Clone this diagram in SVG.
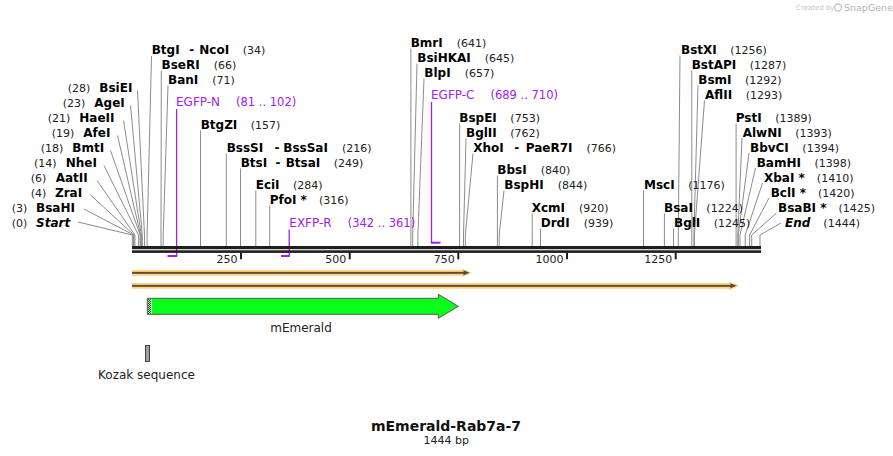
<svg xmlns="http://www.w3.org/2000/svg" width="893" height="456" viewBox="0 0 893 456">
<style>
text{font-family:"DejaVu Sans",Verdana,sans-serif}
.e{font-weight:bold;font-size:12px;fill:#000}
.n{font-weight:normal;font-size:11px;fill:#222}
.it{font-style:italic}
.p{font-size:12px;fill:#a020f0}
.pn{font-size:11.5px}
.c{fill:none;stroke:#8c8c8c;stroke-width:1}
.pl{fill:none;stroke:#a020f0;stroke-width:1.3}
.tk{stroke:#1e1e1e;stroke-width:2}
.tl{font-size:11px;fill:#222;text-anchor:end}
.bb{fill:#1e1e1e}
.og{fill:#fcd27f}
.dk{fill:#5e4a30}
</style>

<g id="watermark">
<text x="796" y="10" style="font-size:7px;fill:#c4c4c4">Created by</text>
<circle cx="838" cy="7.5" r="3.5" fill="none" stroke="#c4c4c4" stroke-width="1.3"/>
<text x="844" y="11" style="font-size:9.5px;fill:#b4b4b4">SnapGene</text>
</g>

<g id="connectors">
<polyline class="c" points="78,222 132.3,235 132.3,246"/>
<polyline class="c" points="84,209 133.6,235 133.6,246"/>
<polyline class="c" points="90.5,195 134,235 134,246"/>
<polyline class="c" points="97,180.5 134.9,235 134.9,246"/>
<polyline class="c" points="104,165.5 138.4,235 138.4,246"/>
<polyline class="c" points="110.5,150.5 140.1,235 140.1,246"/>
<polyline class="c" points="117.5,135.5 140.6,235 140.6,246"/>
<polyline class="c" points="123.5,120.5 141.4,235 141.4,246"/>
<polyline class="c" points="130.5,105.5 142.3,235 142.3,246"/>
<polyline class="c" points="137.5,90.5 144.5,235 144.5,246"/>
<polyline class="c" points="151.5,56 147.1,235 147.1,246"/>
<polyline class="c" points="161.3,70.5 161,235 161,246"/>
<polyline class="c" points="168,85.5 163.2,235 163.2,246"/>
<polyline class="c" points="200.5,130.5 200.5,246"/>
<polyline class="c" points="226.3,153.5 226.3,246"/>
<polyline class="c" points="240.5,168.5 240.5,246"/>
<polyline class="c" points="255.8,190.5 255.8,246"/>
<polyline class="c" points="269.7,205.5 269.7,246"/>
<polyline class="c" points="410.9,48.5 410.9,246"/>
<polyline class="c" points="417,63.5 412.7,235 412.7,246"/>
<polyline class="c" points="424,78.5 417.9,235 417.9,246"/>
<polyline class="c" points="459.6,123.5 459.6,246"/>
<polyline class="c" points="466,138.5 463.5,235 463.5,246"/>
<polyline class="c" points="473,153.5 465.3,235 465.3,246"/>
<polyline class="c" points="497.4,175.5 497.4,246"/>
<polyline class="c" points="504,190.5 499.2,235 499.2,246"/>
<polyline class="c" points="532.2,213.5 532.2,246"/>
<polyline class="c" points="540.5,228.5 540.5,246"/>
<polyline class="c" points="643.5,190.5 643.5,246"/>
<polyline class="c" points="664.4,213.5 664.4,246"/>
<polyline class="c" points="673.5,228.5 673.5,246"/>
<polyline class="c" points="680,55.5 678.3,235 678.3,246"/>
<polyline class="c" points="691.8,70.5 691.8,246"/>
<polyline class="c" points="698,85.5 693.9,235 693.9,246"/>
<polyline class="c" points="704.5,100.5 694.4,235 694.4,246"/>
<polyline class="c" points="736.1,123.5 736.1,246"/>
<polyline class="c" points="742,138 737.8,235 737.8,246"/>
<polyline class="c" points="749,153 738.3,235 738.3,246"/>
<polyline class="c" points="755.5,168 740,235 740,246"/>
<polyline class="c" points="762.5,183 745.2,235 745.2,246"/>
<polyline class="c" points="769,198 749.6,235 749.6,246"/>
<polyline class="c" points="776.5,213 751.7,235 751.7,246"/>
<polyline class="c" points="781,223 760,235 760,246"/>
<line class="pl" x1="176.6" y1="109" x2="176.6" y2="256"/>
<line class="pl" x1="289.2" y1="229.5" x2="289.2" y2="256"/>
<line class="pl" x1="431.5" y1="102" x2="431.5" y2="243"/>
</g>

<g id="backbone">
<rect class="bb" x="132" y="246" width="629" height="3.2"/>
<rect class="bb" x="132" y="250.3" width="629" height="2.6"/>
<line class="tk" x1="241" y1="252.5" x2="241" y2="259.3"/>
<line class="tk" x1="349.7" y1="252.5" x2="349.7" y2="259.3"/>
<line class="tk" x1="458.3" y1="252.5" x2="458.3" y2="259.3"/>
<line class="tk" x1="567" y1="252.5" x2="567" y2="259.3"/>
<line class="tk" x1="675.7" y1="252.5" x2="675.7" y2="259.3"/>
<text class="tl" x="237.5" y="263.3">250</text>
<text class="tl" x="346.2" y="263.3">500</text>
<text class="tl" x="454.8" y="263.3">750</text>
<text class="tl" x="563.5" y="263.3">1000</text>
<text class="tl" x="672.2" y="263.3">1250</text>
</g>

<g id="Start"><text class="e" y="226.5"><tspan class="n" x="11.7">(0)</tspan><tspan class="it" x="36">Start</tspan></text></g>
<g id="BsaHI"><text class="e" y="211.5"><tspan class="n" x="11.7">(3)</tspan><tspan x="36">BsaHI</tspan></text></g>
<g id="ZraI"><text class="e" y="196.5"><tspan class="n" x="30.7">(4)</tspan><tspan x="55">ZraI</tspan></text></g>
<g id="AatII"><text class="e" y="181.5"><tspan class="n" x="30.7">(6)</tspan><tspan x="55.7">AatII</tspan></text></g>
<g id="NheI"><text class="e" y="166.5"><tspan class="n" x="34">(14)</tspan><tspan x="65.7">NheI</tspan></text></g>
<g id="BmtI"><text class="e" y="151.5"><tspan class="n" x="40.7">(18)</tspan><tspan x="72.3">BmtI</tspan></text></g>
<g id="AfeI"><text class="e" y="136.5"><tspan class="n" x="51.7">(19)</tspan><tspan x="83.3">AfeI</tspan></text></g>
<g id="HaeII"><text class="e" y="121.5"><tspan class="n" x="47.7">(21)</tspan><tspan x="79.3">HaeII</tspan></text></g>
<g id="AgeI"><text class="e" y="106.5"><tspan class="n" x="62.7">(23)</tspan><tspan x="94.3">AgeI</tspan></text></g>
<g id="BsiEI"><text class="e" y="91.5"><tspan class="n" x="67.7">(28)</tspan><tspan x="99.3">BsiEI</tspan></text></g>

<g id="BtgI-NcoI"><text class="e" x="151.7" y="53.5">BtgI<tspan x="189.3">-</tspan><tspan x="199.3">NcoI</tspan><tspan class="n" dx="13.5">(34)</tspan></text></g>
<g id="BseRI"><text class="e" x="161.5" y="68.5">BseRI<tspan class="n" dx="14">(66)</tspan></text></g>
<g id="BanI"><text class="e" x="168" y="83.5">BanI<tspan class="n" dx="14">(71)</tspan></text></g>
<g id="EGFP-N">
<text class="p" x="176" y="106">EGFP-N<tspan class="pn" dx="16">(81 .. 102)</tspan></text>
<rect x="167.5" y="255" width="9.8" height="2" fill="#a020f0"/>
</g>
<g id="BtgZI"><text class="e" x="200.7" y="128.5">BtgZI<tspan class="n" dx="13.5">(157)</tspan></text></g>
<g id="BssSI-BssSaI"><text class="e" x="226.7" y="151.5">BssSI<tspan x="274.5">-</tspan><tspan x="283.3">BssSaI</tspan><tspan class="n" dx="14">(216)</tspan></text></g>
<g id="BtsI-BtsaI"><text class="e" x="240.7" y="166.5">BtsI<tspan x="275.5">-</tspan><tspan x="285.7">BtsaI</tspan><tspan class="n" dx="13.5">(249)</tspan></text></g>
<g id="EciI"><text class="e" x="255.7" y="188.5">EciI<tspan class="n" dx="13.5">(284)</tspan></text></g>
<g id="PfoI"><text class="e" x="269.7" y="203.5">PfoI *<tspan class="n" dx="12">(316)</tspan></text></g>
<g id="EXFP-R">
<text class="p" x="289.3" y="226.5">EXFP-R<tspan class="pn" dx="16">(342 .. 361)</tspan></text>
<rect x="281" y="255" width="8.9" height="2" fill="#a020f0"/>
</g>

<g id="BmrI"><text class="e" x="410.7" y="46.5">BmrI<tspan class="n" dx="14">(641)</tspan></text></g>
<g id="BsiHKAI"><text class="e" x="417.3" y="61.5">BsiHKAI<tspan class="n" dx="14">(645)</tspan></text></g>
<g id="BlpI"><text class="e" x="424.3" y="76.5">BlpI<tspan class="n" dx="14">(657)</tspan></text></g>
<g id="EGFP-C">
<text class="p" x="431" y="99">EGFP-C<tspan class="pn" dx="16">(689 .. 710)</tspan></text>
<rect x="430.9" y="241.7" width="9.6" height="2" fill="#a020f0"/>
</g>
<g id="BspEI"><text class="e" x="459.3" y="121.5">BspEI<tspan class="n" dx="13.5">(753)</tspan></text></g>
<g id="BglII"><text class="e" x="466" y="136.5">BglII<tspan class="n" dx="13.5">(762)</tspan></text></g>
<g id="XhoI-PaeR7I"><text class="e" x="473.3" y="151.5">XhoI<tspan x="514.3">-</tspan><tspan x="525.7">PaeR7I</tspan><tspan class="n" dx="14">(766)</tspan></text></g>
<g id="BbsI"><text class="e" x="497.3" y="173.5">BbsI<tspan class="n" dx="14">(840)</tspan></text></g>
<g id="BspHI"><text class="e" x="504.3" y="188.5">BspHI<tspan class="n" dx="14">(844)</tspan></text></g>
<g id="XcmI"><text class="e" x="531.7" y="211.5">XcmI<tspan class="n" dx="14">(920)</tspan></text></g>
<g id="DrdI"><text class="e" x="540.7" y="226.5">DrdI<tspan class="n" dx="14">(939)</tspan></text></g>

<g id="MscI"><text class="e" x="644" y="188.5">MscI<tspan class="n" dx="13.5">(1176)</tspan></text></g>
<g id="BsaI"><text class="e" x="664" y="211.5">BsaI<tspan class="n" dx="13.5">(1224)</tspan></text></g>
<g id="BglI"><text class="e" x="674" y="226.5">BglI<tspan class="n" dx="13.5">(1245)</tspan></text></g>
<g id="BstXI"><text class="e" x="681" y="53.5">BstXI<tspan class="n" dx="13.5">(1256)</tspan></text></g>
<g id="BstAPI"><text class="e" x="691.7" y="68.5">BstAPI<tspan class="n" dx="13.5">(1287)</tspan></text></g>
<g id="BsmI"><text class="e" x="698.3" y="83.5">BsmI<tspan class="n" dx="13.5">(1292)</tspan></text></g>
<g id="AflII"><text class="e" x="705" y="98.5">AflII<tspan class="n" dx="13.5">(1293)</tspan></text></g>
<g id="PstI"><text class="e" x="735.7" y="121.5">PstI<tspan class="n" dx="13.5">(1389)</tspan></text></g>
<g id="AlwNI"><text class="e" x="742.7" y="136.5">AlwNI<tspan class="n" dx="13.5">(1393)</tspan></text></g>
<g id="BbvCI"><text class="e" x="750" y="151.5">BbvCI<tspan class="n" dx="13.5">(1394)</tspan></text></g>
<g id="BamHI"><text class="e" x="756.7" y="166.5">BamHI<tspan class="n" dx="13.5">(1398)</tspan></text></g>
<g id="XbaI"><text class="e" x="764" y="181.5">XbaI *<tspan class="n" dx="12">(1410)</tspan></text></g>
<g id="BclI"><text class="e" x="770.7" y="196.5">BclI *<tspan class="n" dx="12">(1420)</tspan></text></g>
<g id="BsaBI"><text class="e" x="778" y="211.5">BsaBI *<tspan class="n" dx="12">(1425)</tspan></text></g>
<g id="End"><text class="e it" x="785" y="226.5">End<tspan class="n" dx="13" style="font-style:normal">(1444)</tspan></text></g>

<g id="orf1">
<rect class="og" x="132" y="270" width="332" height="5.7"/>
<polygon class="og" points="462,268.5 472,272.8 462,277.2"/>
<rect class="dk" x="132" y="271.9" width="333" height="1.9"/>
<polygon class="dk" points="463.5,270.3 469.6,272.8 463.5,275.3"/>
</g>
<g id="orf2">
<rect class="og" x="132" y="283" width="599" height="5.7"/>
<polygon class="og" points="729,281.5 739,285.8 729,290.2"/>
<rect class="dk" x="132" y="284.9" width="600" height="1.9"/>
<polygon class="dk" points="730.5,283.3 736.6,285.8 730.5,288.3"/>
</g>

<g id="mEmerald">
<polygon points="147.3,298.3 438.3,298.3 438.3,294.3 458.3,306.3 438.3,318.3 438.3,314.3 147.3,314.3" fill="#0aff1a" stroke="#555" stroke-width="1"/>
<rect x="148" y="298.8" width="3.5" height="15" fill="#fff"/>
<line x1="148.5" y1="298.8" x2="148.5" y2="313.8" stroke="#111" stroke-width="1" stroke-dasharray="1 1"/>
<line x1="149.5" y1="299.8" x2="149.5" y2="313.8" stroke="#111" stroke-width="1" stroke-dasharray="1 1"/>
<line x1="150.5" y1="298.8" x2="150.5" y2="313.8" stroke="#111" stroke-width="1" stroke-dasharray="1 1"/>
<text x="301" y="331.5" text-anchor="middle" style="font-size:12px;fill:#222">mEmerald</text>
</g>

<g id="kozak">
<rect x="145.5" y="345.5" width="4" height="16" fill="#9aa0a6" stroke="#444" stroke-width="1"/>
<text x="146.5" y="379" text-anchor="middle" style="font-size:12px;fill:#222">Kozak sequence</text>
</g>

<g id="title">
<text x="446" y="430.5" text-anchor="middle" style="font-size:14px;font-weight:bold;fill:#111">mEmerald-Rab7a-7</text>
<text x="446.3" y="444" text-anchor="middle" style="font-size:11px;fill:#222">1444 bp</text>
</g>
</svg>
